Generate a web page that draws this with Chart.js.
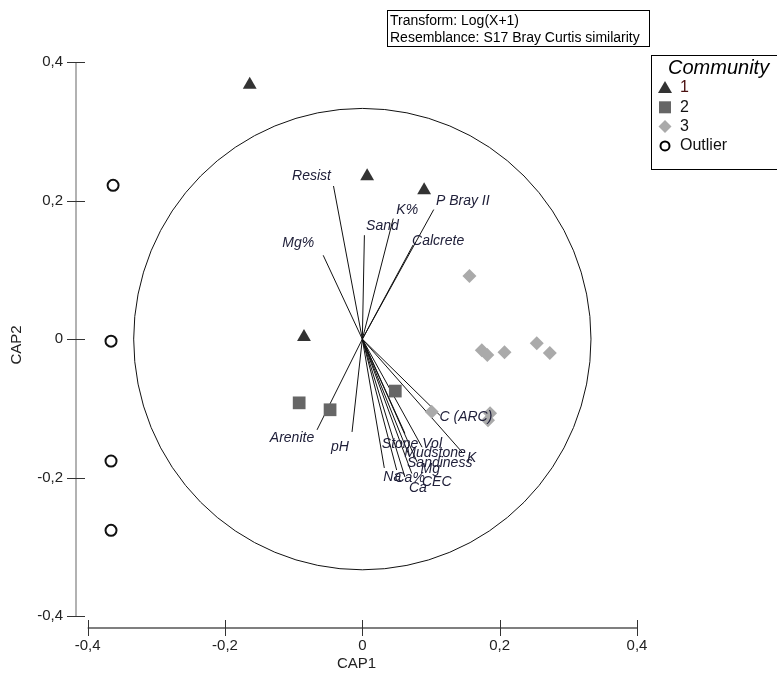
<!DOCTYPE html>
<html>
<head>
<meta charset="utf-8">
<script src="https://cdn.jsdelivr.net/npm/chart.js@4/dist/chart.umd.min.js"></script>
<style>
  html, body { margin: 0; padding: 0; background: #fff; }
</style>
</head>
<body>
<canvas id="grafico" width="777" height="679"></canvas>
<script>
// Datos (CAP1, CAP2)
const comunidad1 = [[-0.164, 0.367], [0.007, 0.235], [0.090, 0.215], [-0.085, 0.003]];
const comunidad2 = [[-0.092, -0.092], [-0.047, -0.102], [0.048, -0.075]];
const comunidad3 = [[0.156, 0.091], [0.174, -0.016], [0.182, -0.023], [0.207, -0.019], [0.254, -0.006],
                    [0.273, -0.020], [0.101, -0.105], [0.186, -0.107], [0.183, -0.117]];
const outliers = [[-0.363, 0.222], [-0.366, -0.003], [-0.366, -0.176], [-0.366, -0.276]];

// Vectores de variables ambientales
const variables = ['Resist', 'Mg%', 'Sand', 'K%', 'P Bray II', 'Calcrete', 'Arenite', 'pH',
                   'Stone Vol', 'Mudstone', 'Sandiness', 'K', 'Mg', 'CEC', 'Ca', 'Ca%', 'Na', 'C (ARC)'];
const vectorX = [-0.042, -0.057, 0.003, 0.045, 0.104, 0.074, -0.066, -0.015,
                 0.062, 0.087, 0.069, 0.146, 0.080, 0.072, 0.062, 0.050, 0.032, 0.113];
const vectorY = [0.221, 0.121, 0.150, 0.174, 0.187, 0.136, -0.131, -0.134,
                 -0.136, -0.156, -0.170, -0.164, -0.178, -0.194, -0.199, -0.189, -0.186, -0.110];

const ticksEje = [-0.4, -0.2, 0, 0.2, 0.4];
const radioCirculo = 0.333;
const leyenda = ['1', '2', '3', 'Outlier'];
const textoTransform = ['Transform: Log(X+1)', 'Resemblance: S17 Bray Curtis similarity'];

// desplazamiento (px) de cada etiqueta respecto al extremo del vector
const despEtiqueta = [[-22, -10], [-25, -12], [18, -9], [14, -8], [29, -8], [25, -4], [-25, 8], [-12, 15],
                      [7, 11], [13, 6], [30, 6], [9, 5], [13, 7], [25, 9], [13, 11], [13, 8], [8, 9], [26, 2]];

const FUENTE = '"Liberation Sans", Arial, sans-serif';
const aPuntos = arr => arr.map(p => ({ x: p[0], y: p[1] }));

function dibujarSimbolo(ctx, tipo, x, y) {
    ctx.beginPath();
    if (tipo === 0) {
        ctx.fillStyle = '#333';
        ctx.moveTo(x, y - 7); ctx.lineTo(x + 7, y + 5); ctx.lineTo(x - 7, y + 5); ctx.closePath(); ctx.fill();
    } else if (tipo === 1) {
        ctx.fillStyle = '#666';
        ctx.rect(x - 6, y - 6, 12, 12); ctx.fill();
    } else if (tipo === 2) {
        ctx.fillStyle = '#aaa';
        ctx.moveTo(x, y - 6.5); ctx.lineTo(x + 6.5, y); ctx.lineTo(x, y + 6.5); ctx.lineTo(x - 6.5, y); ctx.closePath(); ctx.fill();
    } else {
        ctx.strokeStyle = '#000'; ctx.lineWidth = 2;
        ctx.arc(x, y, 4.5, 0, 2 * Math.PI); ctx.stroke();
    }
}

const extras = {
    id: 'extras',
    beforeDatasetsDraw(chart) {
        // círculo de correlación
        const { ctx, scales: { x, y } } = chart;
        const cx = x.getPixelForValue(0), cy = y.getPixelForValue(0);
        const rx = x.getPixelForValue(radioCirculo) - cx;
        const ry = cy - y.getPixelForValue(radioCirculo);
        ctx.save();
        ctx.strokeStyle = '#111';
        ctx.lineWidth = 1;
        ctx.beginPath();
        ctx.ellipse(cx, cy, rx, ry, 0, 0, 2 * Math.PI);
        ctx.stroke();
        ctx.restore();
    },
    afterDatasetsDraw(chart) {
        // etiquetas de los vectores
        const { ctx, scales: { x, y } } = chart;
        ctx.save();
        ctx.font = 'italic 14px ' + FUENTE;
        ctx.fillStyle = '#20203a';
        ctx.textAlign = 'center';
        ctx.textBaseline = 'middle';
        variables.forEach((nombre, i) => {
            const px = x.getPixelForValue(vectorX[i]) + despEtiqueta[i][0];
            const py = y.getPixelForValue(vectorY[i]) + despEtiqueta[i][1];
            ctx.fillText(nombre, px, py);
        });
        ctx.restore();
    },
    afterDraw(chart) {
        const { ctx, chartArea, scales: { x, y } } = chart;
        ctx.save();
        // ejes
        ctx.lineWidth = 1.5;
        ctx.strokeStyle = '#999';
        ctx.beginPath();
        ctx.moveTo(chartArea.left, y.getPixelForValue(0.4));
        ctx.lineTo(chartArea.left, y.getPixelForValue(-0.4));
        ctx.stroke();
        ctx.strokeStyle = '#555';
        ctx.beginPath();
        ctx.moveTo(x.getPixelForValue(-0.4), chartArea.bottom);
        ctx.lineTo(x.getPixelForValue(0.4), chartArea.bottom);
        ctx.stroke();
        ctx.lineWidth = 1;
        ctx.strokeStyle = '#333';
        ticksEje.forEach(v => {
            const py = Math.round(y.getPixelForValue(v)) + 0.5;
            ctx.beginPath(); ctx.moveTo(chartArea.left - 9, py); ctx.lineTo(chartArea.left + 9, py); ctx.stroke();
            const px = Math.round(x.getPixelForValue(v)) + 0.5;
            ctx.beginPath(); ctx.moveTo(px, chartArea.bottom - 8); ctx.lineTo(px, chartArea.bottom + 8); ctx.stroke();
        });

        // cuadro de transformación
        ctx.strokeStyle = '#000';
        ctx.strokeRect(387.5, 10.5, 262, 36);
        ctx.fillStyle = '#000';
        ctx.font = '14px ' + FUENTE;
        ctx.textBaseline = 'middle';
        ctx.fillText(textoTransform[0], 390, 21);
        ctx.fillText(textoTransform[1], 390, 38);

        // leyenda
        ctx.strokeRect(651.5, 55.5, 140, 114);
        ctx.font = 'italic 20px ' + FUENTE;
        ctx.textAlign = 'left';
        ctx.fillText('Community', 668, 68);
        ctx.font = '16px ' + FUENTE;
        leyenda.forEach((txt, i) => {
            const py = 88 + i * 19.3;
            dibujarSimbolo(ctx, i, 665, py);
            ctx.fillStyle = i === 0 ? '#4a1010' : '#111';
            ctx.fillText(txt, 680, py);
        });
        ctx.restore();
    }
};

const formatoTick = v => v === 0 ? '0' : v.toFixed(1).replace('.', ',');

const datasets = [
    { label: '1', data: aPuntos(comunidad1), pointStyle: 'triangle', pointRadius: 8, backgroundColor: '#333', borderColor: '#333', borderWidth: 0 },
    { label: '2', data: aPuntos(comunidad2), pointStyle: 'rect', pointRadius: 9, backgroundColor: '#666', borderColor: '#666', borderWidth: 0 },
    { label: '3', data: aPuntos(comunidad3), pointStyle: 'rectRot', pointRadius: 7, backgroundColor: '#aaa', borderColor: '#aaa', borderWidth: 0 },
    { label: 'Outlier', data: aPuntos(outliers), pointStyle: 'circle', pointRadius: 5.5, backgroundColor: '#fff', borderColor: '#111', borderWidth: 2 }
];
variables.forEach((nombre, i) => {
    datasets.push({
        label: nombre,
        data: [{ x: 0, y: 0 }, { x: vectorX[i], y: vectorY[i] }],
        showLine: true,
        pointRadius: 0,
        borderColor: '#111',
        borderWidth: 1,
        fill: false
    });
});

const ctx = document.getElementById('grafico').getContext('2d');
const chart = new Chart(ctx, {
    type: 'scatter',
    data: { datasets },
    options: {
        responsive: false,
        animation: false,
        devicePixelRatio: 1,
        layout: { padding: { top: 62, right: 140, left: 0, bottom: 0 } },
        plugins: { legend: { display: false }, tooltip: { enabled: false } },
        scales: {
            x: {
                min: -0.417, max: 0.4,
                afterFit(scale) { scale.height = 51; },
                afterBuildTicks(scale) { scale.ticks = ticksEje.map(v => ({ value: v })); },
                grid: { display: false, drawTicks: false },
                border: { display: false },
                ticks: { padding: 9, color: '#222', font: { size: 15, family: FUENTE }, callback: formatoTick, maxRotation: 0 },
                title: { display: true, text: 'CAP1', color: '#222', font: { size: 15, family: FUENTE }, padding: { top: 0, bottom: 6 } }
            },
            y: {
                min: -0.417, max: 0.4,
                afterFit(scale) { scale.width = 76; },
                afterBuildTicks(scale) { scale.ticks = ticksEje.map(v => ({ value: v })); },
                grid: { display: false, drawTicks: false },
                border: { display: false },
                ticks: { padding: 13, color: '#222', font: { size: 15, family: FUENTE }, callback: formatoTick },
                title: { display: true, text: 'CAP2', color: '#222', font: { size: 15, family: FUENTE }, padding: { top: 8, bottom: 0 } }
            }
        }
    },
    plugins: [extras]
});
</script>
</body>
</html>
